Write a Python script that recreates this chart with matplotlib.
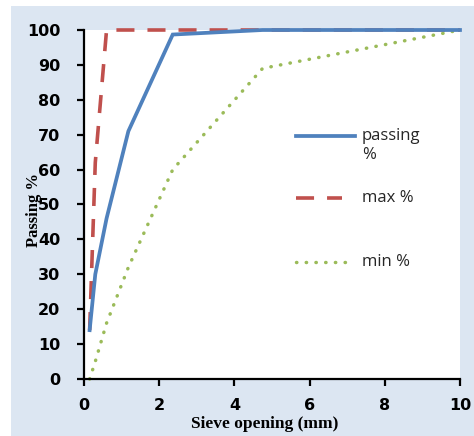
import matplotlib
matplotlib.use('Agg')
import matplotlib.pyplot as plt
from matplotlib.patches import Rectangle

# sieve sizes (mm) and grading curves
sieve = [0.15, 0.3, 0.6, 1.18, 2.36, 4.75, 10]
passing = [14, 30, 46, 71, 98.7, 100, 100]
max_pct = [14, 62, 100, 100, 100, 100, 100]
min_pct = [0, 5, 16, 32, 60, 89, 100]

blue = '#4f81bd'
red = '#c0504d'
green = '#9bbb59'

fig = plt.figure(figsize=(4.74, 4.36), dpi=100)
fig.patch.set_facecolor('white')
# light blue chart panel
fig.patches.append(Rectangle((11 / 474, 0), 1, 1 - 6 / 436, transform=fig.transFigure,
                             facecolor='#dce6f2', edgecolor='none', zorder=-1))

ax = fig.add_axes([84 / 474, 1 - 379 / 436, 376 / 474, 349 / 436])
ax.set_facecolor('white')

ax.plot(sieve, passing, color=blue, lw=2.7, solid_joinstyle='miter', clip_on=False, zorder=3)
ax.plot(sieve, max_pct, color=red, lw=2.6, linestyle=(0, (5, 3.6)), clip_on=False, zorder=2)
ax.plot(sieve, min_pct, color=green, lw=2.5, linestyle=(0, (0.1, 2.7)),
        dash_capstyle='round', clip_on=False, zorder=2)

ax.set_xlim(0, 10)
ax.set_ylim(0, 100)
ax.set_xticks(range(0, 11, 2))
ax.set_yticks(range(0, 101, 10))
for s in ['top', 'right']:
    ax.spines[s].set_visible(False)
for s in ['left', 'bottom']:
    ax.spines[s].set_linewidth(1.6)
ax.tick_params(direction='out', length=5, width=1.6, labelsize=11.5)
ax.tick_params(axis='y', pad=12)
ax.tick_params(axis='x', pad=9)
for lbl in ax.get_xticklabels() + ax.get_yticklabels():
    lbl.set_fontweight('bold')

ax.set_ylabel('Passing %', family='Liberation Serif', fontweight='bold', fontsize=12)
ax.yaxis.set_label_coords(-0.112, 0.485)
ax.set_xlabel('Sieve opening (mm)', family='Liberation Serif', fontweight='bold', fontsize=12.5)
ax.xaxis.set_label_coords(0.481, -0.107)

# legend drawn by hand to keep the Excel-like layout
lx0, lx1, tx = 0.564, 0.72, 0.739
ax.plot([lx0, lx1], [0.696, 0.696], transform=ax.transAxes, color=blue, lw=2.7)
ax.plot([lx0, 0.685], [0.519, 0.519], transform=ax.transAxes, color=red, lw=2.6,
        linestyle=(0, (5, 3.6)))
ax.plot([lx0, 0.708], [0.335, 0.335], transform=ax.transAxes, color=green, lw=2.5,
        linestyle=(0, (0.1, 2.7)), dash_capstyle='round')
leg_font = dict(family='Open Sans', fontsize=12, color='#262626', transform=ax.transAxes)
ax.text(tx, 0.718, 'passing\n%', va='top', linespacing=1.25, **leg_font)
ax.text(tx, 0.519, 'max %', va='center', **leg_font)
ax.text(tx, 0.335, 'min %', va='center', **leg_font)

fig.savefig('out.png', dpi=100)
